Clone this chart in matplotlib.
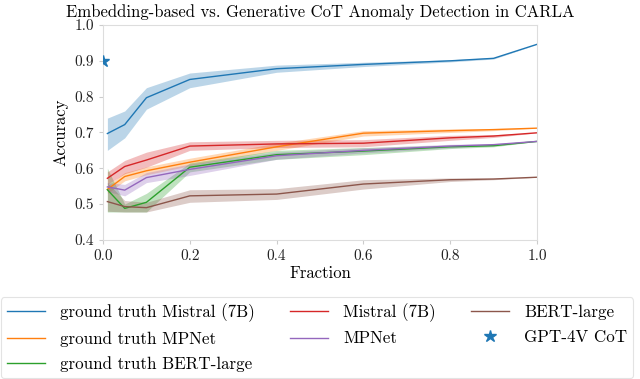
import matplotlib
matplotlib.use("Agg")
import matplotlib.pyplot as plt
import numpy as np

plt.rcParams['font.family'] = ['cmr10', 'DejaVu Serif']
plt.rcParams['mathtext.fontset'] = 'cm'
plt.rcParams['axes.formatter.use_mathtext'] = True

fractions = [0.01, 0.05, 0.1, 0.2, 0.4, 0.6, 0.8, 0.9, 1.0]

gt_mistral = [0.697, 0.722, 0.797, 0.848, 0.878, 0.890, 0.900, 0.907, 0.946]
gt_mistral_lo = [0.650, 0.685, 0.765, 0.825, 0.868, 0.884, 0.897, 0.905, 0.946]
gt_mistral_hi = [0.740, 0.760, 0.825, 0.866, 0.888, 0.896, 0.903, 0.909, 0.946]

gt_mpnet = [0.541, 0.577, 0.593, 0.617, 0.660, 0.698, 0.705, 0.708, 0.712]
gt_mpnet_lo = [0.530, 0.565, 0.582, 0.607, 0.650, 0.690, 0.700, 0.705, 0.712]
gt_mpnet_hi = [0.552, 0.588, 0.604, 0.628, 0.670, 0.705, 0.710, 0.711, 0.712]

gt_bert = [0.540, 0.488, 0.505, 0.603, 0.638, 0.648, 0.660, 0.663, 0.675]
gt_bert_lo = [0.478, 0.478, 0.478, 0.590, 0.625, 0.638, 0.655, 0.660, 0.675]
gt_bert_hi = [0.600, 0.500, 0.530, 0.615, 0.650, 0.658, 0.665, 0.667, 0.675]

mistral = [0.572, 0.605, 0.623, 0.662, 0.668, 0.670, 0.685, 0.690, 0.699]
mistral_lo = [0.555, 0.585, 0.603, 0.650, 0.658, 0.660, 0.678, 0.686, 0.699]
mistral_hi = [0.590, 0.622, 0.645, 0.674, 0.678, 0.680, 0.692, 0.694, 0.699]

mpnet = [0.548, 0.539, 0.574, 0.597, 0.635, 0.650, 0.662, 0.666, 0.675]
mpnet_lo = [0.535, 0.523, 0.560, 0.580, 0.625, 0.643, 0.657, 0.663, 0.675]
mpnet_hi = [0.560, 0.555, 0.588, 0.612, 0.645, 0.657, 0.667, 0.669, 0.675]

bert = [0.507, 0.493, 0.490, 0.523, 0.528, 0.556, 0.568, 0.570, 0.575]
bert_lo = [0.480, 0.478, 0.478, 0.505, 0.513, 0.542, 0.563, 0.568, 0.575]
bert_hi = [0.560, 0.510, 0.505, 0.540, 0.543, 0.568, 0.573, 0.572, 0.575]

gpt4v_x = [0.0]
gpt4v_y = [0.90]

series = [
    ("ground truth Mistral (7B)", gt_mistral, gt_mistral_lo, gt_mistral_hi, "#1f77b4"),
    ("ground truth MPNet", gt_mpnet, gt_mpnet_lo, gt_mpnet_hi, "#ff7f0e"),
    ("ground truth BERT-large", gt_bert, gt_bert_lo, gt_bert_hi, "#2ca02c"),
    ("Mistral (7B)", mistral, mistral_lo, mistral_hi, "#d62728"),
    ("MPNet", mpnet, mpnet_lo, mpnet_hi, "#9467bd"),
    ("BERT-large", bert, bert_lo, bert_hi, "#8c564b"),
]

fig = plt.figure(figsize=(6.4, 3.79), dpi=100)
ax = fig.add_axes([0.161, 0.367, 0.678, 0.567])

for label, y, lo, hi, c in series:
    ax.fill_between(fractions, lo, hi, color=c, alpha=0.3, linewidth=0)
    ax.plot(fractions, y, color=c, linewidth=1.0, label=label)

ax.plot(gpt4v_x, gpt4v_y, linestyle='none', marker='*', markersize=9,
        color="#1f77b4", label="GPT-4V CoT", clip_on=True, zorder=5)

ax.set_xlim(0.0, 1.0)
ax.set_ylim(0.4, 1.0)
ax.set_xticks([0.0, 0.2, 0.4, 0.6, 0.8, 1.0])
ax.set_yticks([0.4, 0.5, 0.6, 0.7, 0.8, 0.9, 1.0])
ax.set_xticklabels(["0.0", "0.2", "0.4", "0.6", "0.8", "1.0"])
ax.set_yticklabels(["0.4", "0.5", "0.6", "0.7", "0.8", "0.9", "1.0"])
ax.tick_params(labelsize=11, length=3, color="#cccccc", colors="#222222")
for s in ax.spines.values():
    s.set_color("#dddddd")
    s.set_linewidth(0.8)
ax.set_xlabel("Fraction", fontsize=12, labelpad=2)
ax.set_ylabel("Accuracy", fontsize=12, labelpad=4)
ax.set_title("Embedding-based vs. Generative CoT Anomaly Detection in CARLA",
             fontsize=12, pad=6)

handles, labels = ax.get_legend_handles_labels()
leg = fig.legend(handles, labels, loc='lower left',
                 bbox_to_anchor=(1 / 640, 1 / 379, 632 / 640, 0.2),
                 mode='expand',
                 ncol=3, fontsize=12.2, handlelength=2.25, frameon=True,
                 borderaxespad=0.0, labelspacing=0.55, handletextpad=0.9,
                 borderpad=0.35,
                 fancybox=True, edgecolor="#dddddd")
leg.get_frame().set_linewidth(0.8)

fig.savefig("out.png", dpi=100)
